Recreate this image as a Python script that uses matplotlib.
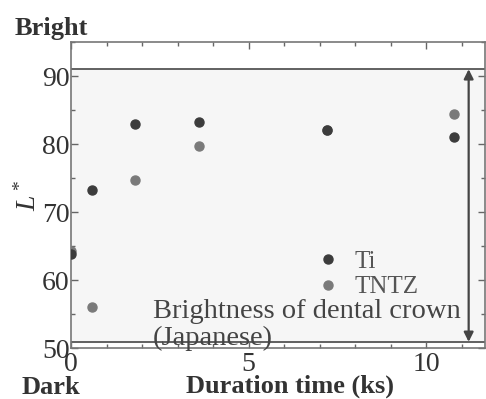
import matplotlib
matplotlib.use("Agg")
import matplotlib.pyplot as plt
from matplotlib.ticker import MultipleLocator

# Data (duration in ks, L* values)
ti_time = [0, 0.6, 1.8, 3.6, 7.2, 10.8]
ti_L = [63.8, 73.2, 82.9, 83.2, 82.0, 81.0]
tntz_time = [0, 0.6, 1.8, 3.6, 7.2, 10.8]
tntz_L = [64.3, 56.0, 74.7, 79.7, 82.0, 84.4]
crown_range = [50.9, 91.0]
arrow_x = 11.2

plt.rcParams['font.family'] = ['Liberation Serif', 'DejaVu Serif']
plt.rcParams['mathtext.fontset'] = 'custom'
plt.rcParams['mathtext.it'] = 'Liberation Serif:italic'
plt.rcParams['mathtext.rm'] = 'Liberation Serif'
txt = '#333333'

fig = plt.figure(figsize=(4.86, 3.99), dpi=100)
ax = fig.add_axes([71/486, 1-348/399, (485-71)/486, (348-42)/399])
ax.set_xlim(0, 11.66)
ax.set_ylim(50, 95.0)

ax.axhspan(crown_range[0], crown_range[1], color='#f6f6f6', zorder=0)
for y in crown_range:
    ax.axhline(y, color='#555555', lw=1.3, zorder=1)

ax.annotate('', xy=(arrow_x, crown_range[1]), xytext=(arrow_x, crown_range[0]),
            arrowprops=dict(arrowstyle='<|-|>', color='#444444', lw=1.6,
                            mutation_scale=14, shrinkA=0, shrinkB=0), zorder=3)

ax.plot(tntz_time, tntz_L, 'o', color='#7a7a7a', ms=6.5, ls='none', label='TNTZ', zorder=4)
ax.plot(ti_time, ti_L, 'o', color='#3c3c3c', ms=6.5, ls='none', label='Ti', zorder=5)

leg = ax.legend(handles=[ax.lines[-1], ax.lines[-2]], loc='upper left',
                bbox_to_anchor=(0.573, 0.36), frameon=False, fontsize=18,
                handlelength=0.6, handletextpad=0.75, labelspacing=0.12,
                borderpad=0, labelcolor='#555555')

ax.text(2.31, 54.4, 'Brightness of dental crown', fontsize=20.5,
        color='#444444', va='baseline', ha='left', zorder=6)
ax.text(2.31, 50.45, '(Japanese)', fontsize=20.5,
        color='#444444', va='baseline', ha='left', zorder=6)

ax.xaxis.set_major_locator(MultipleLocator(5))
ax.xaxis.set_minor_locator(MultipleLocator(1))
ax.yaxis.set_minor_locator(MultipleLocator(5))
ax.set_yticks([50, 60, 70, 80, 90])
ax.tick_params(which='both', direction='in', top=True, right=True, colors='#666666',
               labelcolor=txt, labelsize=20, pad=1)
ax.tick_params(axis='x', which='both', pad=3)
ax.tick_params(which='major', length=5, width=1)
ax.tick_params(which='minor', length=3, width=1)
for s in ax.spines.values():
    s.set_color('#777777')
    s.set_linewidth(1.2)

ax.set_ylabel('$L^*$', fontsize=20, color=txt, labelpad=0)
fig.text(15/486, 1-35/399, 'Bright', fontsize=19, fontweight='bold', color=txt, va='baseline')
fig.text(22/486, 1-394/399, 'Dark', fontsize=19, fontweight='bold', color=txt, va='baseline')
fig.text(290/486, 1-393/399, 'Duration time (ks)', fontsize=19, fontweight='bold',
         color=txt, va='baseline', ha='center')

fig.savefig('out.png', dpi=100)
